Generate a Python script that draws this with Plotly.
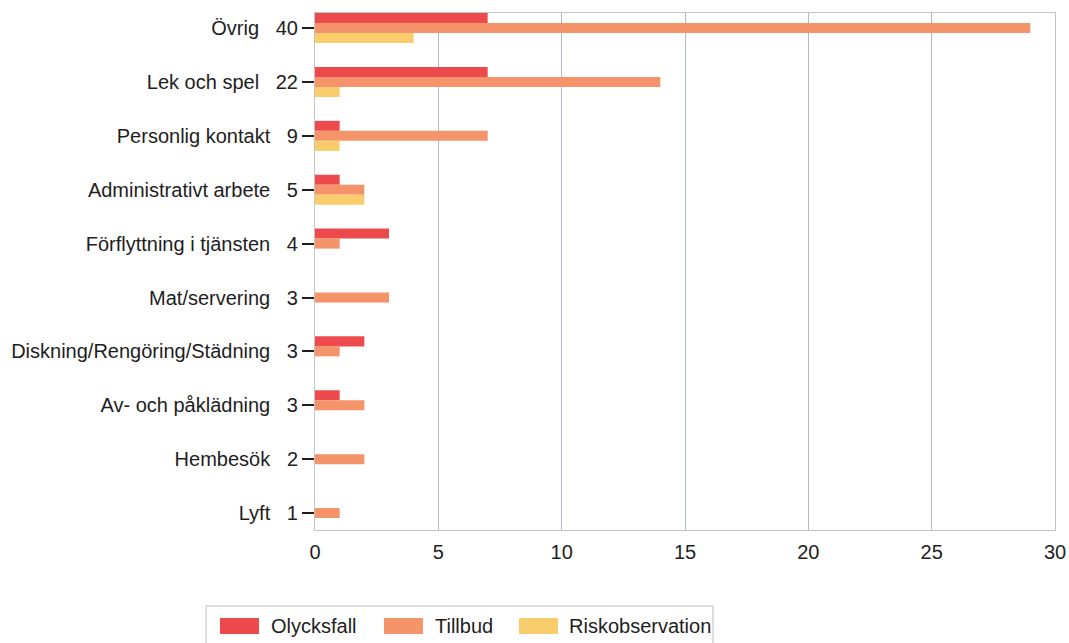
import plotly.graph_objects as go

# Incident categories (top to bottom) and totals shown beside each label
categories = ["Övrig", "Lek och spel", "Personlig kontakt", "Administrativt arbete",
              "Förflyttning i tjänsten", "Mat/servering", "Diskning/Rengöring/Städning",
              "Av- och påklädning", "Hembesök", "Lyft"]
totals = [40, 22, 9, 5, 4, 3, 3, 3, 2, 1]

# Counts per report type
olycksfall = [7, 7, 1, 1, 3, 0, 2, 1, 0, 0]
tillbud = [29, 14, 7, 2, 1, 3, 1, 2, 2, 1]
riskobservation = [4, 1, 1, 2, 0, 0, 0, 0, 0, 0]

series_names = ["Olycksfall", "Tillbud", "Riskobservation"]
series_values = [olycksfall, tillbud, riskobservation]
colors = ["#ec4a4c", "#f5946a", "#f9cd6c"]

x_ticks = [0, 5, 10, 15, 20, 25, 30]

W, H = 1069, 643
ML, MR, MT, MB = 315, 14, 13, 113
PW, PH = W - ML - MR, H - MT - MB
FONT = "Liberation Sans, Arial, sans-serif"

fig = go.Figure()
for name, vals, col in zip(series_names, series_values, colors):
    fig.add_trace(go.Bar(
        y=categories, x=vals, name=name, orientation="h",
        marker=dict(color=col, line=dict(width=0)),
        showlegend=False,
    ))

nbsp = "\u00a0"
ticktext = [f"{c}{nbsp * 3}{t}" for c, t in zip(categories, totals)]

fig.update_layout(
    width=W, height=H,
    margin=dict(l=ML, r=MR, t=MT, b=MB, pad=0, autoexpand=False),
    paper_bgcolor="white", plot_bgcolor="white",
    barmode="group", bargap=0.443, bargroupgap=0,
    font=dict(family=FONT, size=20, color="#1e1e1e"),
)

fig.update_xaxes(
    range=[0, 30], tickvals=x_ticks, ticks="", showgrid=True,
    gridcolor="#b3b7d6", gridwidth=1, zeroline=False,
    showline=True, linecolor="#c4c4c4", linewidth=1, mirror=True,
    tickfont=dict(size=20, color="#1e1e1e"), ticklabelstandoff=4,
    automargin=False,
)
fig.update_yaxes(
    type="category", range=[9.315, -0.28],
    tickvals=categories, ticktext=ticktext,
    ticks="outside", ticklen=12, tickwidth=2, tickcolor="#1e1e1e",
    showgrid=False, zeroline=False,
    showline=True, linecolor="#c4c4c4", linewidth=1, mirror=True,
    tickfont=dict(size=20, color="#1e1e1e"), ticklabelstandoff=0,
    automargin=False,
)


def px_x(px):
    return (px - ML) / PW


def px_y(py):
    return (H - MB - py) / PH


# Legend drawn below the plot with wide colour swatches
shapes = [dict(type="rect", xref="paper", yref="paper",
               x0=px_x(206), x1=px_x(713), y0=px_y(660), y1=px_y(606),
               line=dict(color="#bdbdbd", width=1), fillcolor="rgba(0,0,0,0)")]
swatch_x = [220, 384, 519]
text_x = [269, 433, 567]
annotations = []
for sx, tx, name, col in zip(swatch_x, text_x, series_names, colors):
    shapes.append(dict(type="rect", xref="paper", yref="paper",
                       x0=px_x(sx), x1=px_x(sx + 39), y0=px_y(634), y1=px_y(618),
                       line=dict(width=0), fillcolor=col))
    annotations.append(dict(xref="paper", yref="paper", x=px_x(tx), y=px_y(626),
                            text=name, showarrow=False, xanchor="left", yanchor="middle",
                            font=dict(family=FONT, size=20, color="#1e1e1e")))

fig.update_layout(shapes=shapes, annotations=annotations)

fig.write_html("out.html")
